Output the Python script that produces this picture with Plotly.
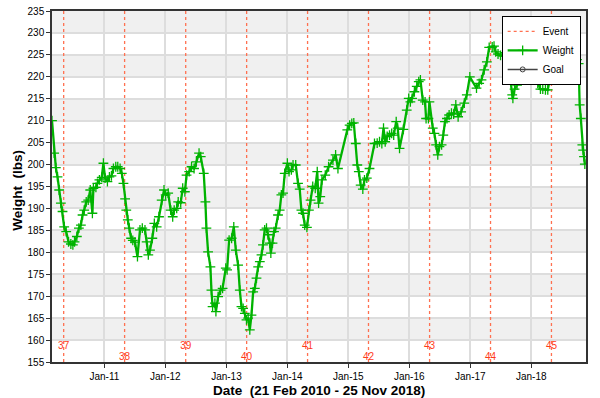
import plotly.graph_objects as go

dates = [
"2010-02-21","2010-03-06","2010-03-16","2010-03-26","2010-04-05","2010-04-15","2010-04-25","2010-05-05","2010-05-17","2010-05-31",
"2010-06-14","2010-06-26","2010-07-06","2010-07-20","2010-08-01","2010-08-13","2010-08-23","2010-09-02","2010-09-14","2010-09-26",
"2010-10-08","2010-10-21","2010-10-27","2010-11-11","2010-11-20","2010-12-02","2010-12-16","2010-12-26","2011-01-05","2011-01-19",
"2011-01-31","2011-02-12","2011-02-24","2011-03-10","2011-03-22","2011-04-05","2011-04-15","2011-04-25","2011-05-05","2011-05-12",
"2011-05-21","2011-05-30","2011-06-10","2011-06-20","2011-07-03","2011-07-18","2011-08-02","2011-08-16","2011-09-01","2011-09-11",
"2011-09-21","2011-10-01","2011-10-15","2011-10-27","2011-11-10","2011-11-24","2011-12-10","2011-12-24","2012-01-03","2012-01-18",
"2012-02-02","2012-02-14","2012-02-23","2012-03-09","2012-03-18","2012-04-02","2012-04-14","2012-04-27","2012-05-07","2012-05-23",
"2012-06-06","2012-06-21","2012-07-05","2012-07-21","2012-07-31","2012-08-18","2012-08-28","2012-09-03","2012-09-13","2012-09-27",
"2012-10-03","2012-10-10","2012-10-24","2012-10-30","2012-11-12","2012-11-27","2012-12-09","2012-12-28","2013-01-05","2013-01-17",
"2013-02-01","2013-02-14","2013-02-26","2013-03-12","2013-03-22","2013-04-01","2013-04-11","2013-04-21","2013-05-01","2013-05-11",
"2013-05-21","2013-05-31","2013-06-10","2013-06-20","2013-06-30","2013-07-10","2013-07-20","2013-07-30","2013-08-08","2013-08-18",
"2013-08-29","2013-09-07","2013-09-18","2013-09-24","2013-10-04","2013-10-13","2013-10-23","2013-11-06","2013-11-16","2013-11-26",
"2013-12-06","2013-12-16","2014-01-01","2014-01-11","2014-01-25","2014-02-04","2014-02-20","2014-03-06","2014-03-16","2014-03-26",
"2014-04-05","2014-04-15","2014-04-28","2014-05-10","2014-05-20","2014-06-02","2014-06-17","2014-06-29","2014-07-07","2014-07-17",
"2014-07-27","2014-08-16","2014-09-05","2014-10-01","2014-10-17","2014-10-31","2014-12-26","2015-01-09","2015-01-22","2015-02-03",
"2015-02-15","2015-02-24","2015-03-05","2015-03-16","2015-03-29","2015-04-08","2015-04-22","2015-05-08","2015-06-07","2015-06-23",
"2015-07-07","2015-07-21","2015-07-31","2015-08-10","2015-08-22","2015-09-05","2015-09-18","2015-09-30","2015-10-15","2015-10-24",
"2015-11-04","2015-11-27","2015-12-17","2015-12-29","2016-01-08","2016-01-18","2016-02-01","2016-02-15","2016-02-27","2016-03-08",
"2016-03-22","2016-04-05","2016-04-11","2016-04-25","2016-05-01","2016-05-21","2016-05-31","2016-06-10","2016-06-20","2016-06-30",
"2016-07-13","2016-07-23","2016-08-02","2016-08-14","2016-08-27","2016-09-10","2016-09-23","2016-10-06","2016-10-20","2016-11-07",
"2016-11-26","2016-12-11","2016-12-29","2017-02-07","2017-02-23","2017-03-09","2017-03-25","2017-04-10","2017-04-24","2017-05-12",
"2017-05-23","2017-06-02","2017-06-16","2017-07-01","2017-07-17","2017-07-27","2017-08-10","2017-08-16","2017-08-26","2017-09-09",
"2017-09-13","2017-09-23","2017-10-08","2017-10-24","2017-11-11","2017-11-29","2017-12-17","2018-01-04","2018-01-16","2018-01-26",
"2018-02-09","2018-02-25","2018-03-11","2018-03-27","2018-04-10","2018-04-22","2018-05-05","2018-05-15","2018-05-31","2018-06-14",
"2018-06-28","2018-07-14","2018-08-03","2018-08-22","2018-09-12","2018-10-02","2018-10-12","2018-10-18","2018-10-25","2018-11-03",
"2018-11-08","2018-11-13","2018-11-18"]

weights = [
210.0,202.6,199.3,197.2,194.2,191.2,189.3,185.8,184.7,182.4,
181.9,181.7,182.4,183.6,185.5,186.2,188.5,189.6,191.5,191.9,
194.2,188.9,194.6,194.8,195.7,196.5,197.1,200.3,196.9,196.1,
197.2,197.4,199.1,199.5,199.5,199.1,198.0,195.7,192.2,189.6,
187.4,185.5,183.2,182.7,182.3,179.0,185.1,185.5,185.1,182.4,
179.4,180.5,183.2,186.6,185.8,188.1,191.9,194.2,193.1,193.5,
189.6,188.1,189.6,190.0,191.5,191.3,194.6,193.8,197.6,198.4,
199.5,199.1,200.6,202.6,201.8,198.0,191.5,185.5,180.1,176.7,
171.4,167.6,168.4,166.5,169.9,171.4,171.8,176.4,176.0,182.8,
183.2,185.8,180.5,177.1,171.4,167.6,167.2,166.1,164.6,165.0,
162.3,165.7,171.0,171.8,174.1,176.7,177.9,179.4,181.7,185.1,
185.5,184.0,182.1,179.8,182.1,184.7,185.5,188.5,189.6,193.1,
193.5,198.0,200.3,198.4,198.8,199.9,199.9,195.7,194.4,189.6,
188.9,186.2,185.7,189.6,191.9,195.0,194.6,198.4,191.2,192.7,
196.5,197.6,199.5,201.0,202.2,199.1,207.9,209.0,209.4,209.5,
204.8,199.9,198.4,195.3,194.4,196.5,196.9,199.1,204.8,204.9,
205.2,204.8,208.3,205.2,206.4,206.7,207.1,206.7,209.8,208.3,
203.7,208.0,212.4,215.1,214.3,215.1,216.6,217.8,218.9,219.3,
214.7,214.3,210.5,210.5,214.3,208.3,207.1,204.5,202.2,204.1,
204.5,206.7,209.8,210.5,211.3,211.7,211.5,213.6,210.9,212.0,
214.0,215.9,220.0,217.4,218.5,219.3,221.6,223.4,226.7,226.8,
227.0,225.7,225.2,224.9,224.7,225.5,225.9,221.6,220.4,215.9,
215.1,217.2,218.1,221.2,225.0,227.5,226.0,224.0,222.3,220.0,
218.5,217.2,217.2,217.0,217.0,219.5,221.2,220.4,219.3,221.2,
222.7,223.2,223.4,224.0,223.9,223.9,223.0,213.6,210.5,204.5,
203.3,201.8,200.1]

event_dates = ["2010-05-02","2011-05-02","2012-05-02","2013-05-02","2014-05-02",
               "2015-05-02","2016-05-02","2017-05-02","2018-05-02"]
event_labels = ["37","38","39","40","41","42","43","44","45"]

goal_dates = []
goal_values = []

y_min, y_max = 155, 235
x_start, x_end = "2010-02-21", "2018-11-25"

font_fam = "Liberation Sans, Arial, Helvetica, sans-serif"
ev_line_color = "#FF7050"
ev_text_color = "#FF3A1A"
green = "#00B300"

fig = go.Figure()

# event lines
ex, ey = [], []
for d in event_dates:
    ex += [d, d, None]
    ey += [y_min, y_max, None]
fig.add_trace(go.Scatter(x=ex, y=ey, mode="lines", name="Event",
                         line=dict(color=ev_line_color, width=1.3, dash="dot"),
                         hoverinfo="skip"))

fig.add_trace(go.Scatter(x=dates, y=weights, mode="lines+markers", name="Weight",
                         line=dict(color=green, width=2.3),
                         marker=dict(symbol="cross-thin", size=7, color=green,
                                     line=dict(color=green, width=1.3))))

fig.add_trace(go.Scatter(x=goal_dates if goal_dates else [None],
                         y=goal_values if goal_values else [None],
                         mode="lines+markers", name="Goal",
                         line=dict(color="#444444", width=1.5),
                         marker=dict(symbol="circle-open", size=5, color="#444444")))

# event labels (alternating heights)
label_y = [158.6 if i % 2 == 0 else 156.1 for i in range(len(event_labels))]
fig.add_trace(go.Scatter(x=event_dates, y=label_y, mode="text", text=event_labels,
                         textfont=dict(color=ev_text_color, size=10, family=font_fam),
                         showlegend=False, hoverinfo="skip", cliponaxis=False))

# alternating background bands
shapes = []
for lo in range(160, 235, 10):
    shapes.append(dict(type="rect", xref="paper", yref="y", x0=0, x1=1, y0=lo, y1=lo + 5,
                       fillcolor="#F0F0F0", line=dict(width=0), layer="below"))

annotations = [
    dict(text="<b>Date  (21 Feb 2010 - 25 Nov 2018)</b>", xref="paper", yref="paper",
         x=0.5, y=-0.0798, xanchor="center", yanchor="middle", showarrow=False,
         font=dict(size=13.5, family=font_fam, color="#000")),
    dict(text="<b>Weight  (lbs)</b>", xref="paper", yref="paper",
         x=-0.0637, y=0.491, xanchor="center", yanchor="middle", showarrow=False,
         textangle=-90, font=dict(size=13.5, family=font_fam, color="#000")),
]

fig.update_layout(
    width=600, height=398,
    margin=dict(l=52, r=14, t=11, b=36, autoexpand=False),
    paper_bgcolor="white", plot_bgcolor="white",
    font=dict(family=font_fam, size=10, color="#000"),
    shapes=shapes,
    annotations=annotations,
    showlegend=True,
    legend=dict(x=0.99, y=0.986, xanchor="right", yanchor="top",
                bgcolor="white", bordercolor="#000", borderwidth=1,
                font=dict(size=10, family=font_fam), itemwidth=30,
                tracegroupgap=0),
    xaxis=dict(range=[x_start, x_end], type="date", automargin=False,
               tickvals=["2011-01-01","2012-01-01","2013-01-01","2014-01-01",
                         "2015-01-01","2016-01-01","2017-01-01","2018-01-01"],
               tickformat="%b-%y",
               showgrid=True, gridcolor="#DDDDDD", gridwidth=1.5,
               showline=True, linecolor="#333", linewidth=1.5, mirror=True,
               ticks="outside", ticklen=4, tickcolor="#333",
               tickfont=dict(size=10),
               zeroline=False),
    yaxis=dict(range=[y_min, y_max], tickmode="linear", tick0=155, dtick=5,
               automargin=False,
               showgrid=True, gridcolor="#DDDDDD", gridwidth=1.5,
               showline=True, linecolor="#333", linewidth=1.5, mirror=True,
               ticks="outside", ticklen=4, tickcolor="#333",
               tickfont=dict(size=10),
               zeroline=False),
)

fig.write_html("out.html")
